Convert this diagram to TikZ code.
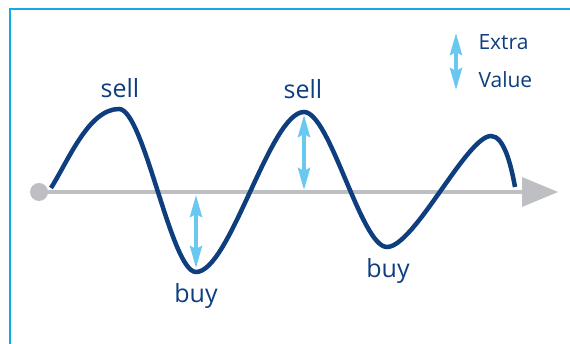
\documentclass[tikz,border=0pt]{standalone}
\usepackage{fontspec}
\setmainfont{Open Sans}
\usepackage{xcolor}
\usetikzlibrary{arrows.meta}
\definecolor{wavec}{RGB}{14,62,125}
\definecolor{gainc}{RGB}{104,200,240}
\definecolor{axisc}{RGB}{190,191,194}
\definecolor{framec}{RGB}{22,168,230}

\begin{document}
\begin{tikzpicture}[x=1pt, y=1pt,
  wave/.style  = {draw=wavec, line width=4.5pt},
  gain/.style  = {draw=gainc, line width=4pt,
                  arrows={Stealth[length=22pt,width=12pt,inset=3pt]-Stealth[length=22pt,width=12pt,inset=3pt]}},
  lbl/.style   = {text=wavec, font=\fontsize{25}{30}\selectfont, anchor=base},
  lgd/.style   = {text=wavec, font=\fontsize{21}{25}\selectfont, anchor=base west}
]
\useasboundingbox (0,0) rectangle (570,344);

% --- frame ---
\draw[framec, line width=2pt] (10,-2) -- (10,335) -- (572,335);

% --- time axis ---
\coordinate (t0) at (39,152);
\coordinate (t1) at (524,152);
\draw[axisc, line width=4pt] (t0) -- (t1);
\fill[axisc] (t0) circle (9);
\fill[axisc] (522,137) -- (558,152) -- (522,167) -- cycle;

% --- price wave ---
\draw[wave] (51,156) .. controls +(58:34) and +(-30,0) .. (119,235)
  .. controls +(25,0) and +(-25,0) .. (196,72)
  .. controls +(34,0) and +(-34,0) .. (304,232)
  .. controls +(26,0) and +(-26,0) .. (387,97)
  .. controls +(27,0) and +(-24,0) .. (491,208)
  .. controls +(13,0) and +(-4,22) .. (515,157);

% --- extra value ---
\coordinate (g1a) at (196,149); \coordinate (g1b) at (196,76);
\coordinate (g2a) at (304,229); \coordinate (g2b) at (304,154);
\draw[gain] (g1a) -- (g1b);
\draw[gain] (g2a) -- (g2b);

% --- labels ---
\node[lbl] (sell1) at (120,246) {sell};
\node[lbl] (sell2) at (303,245) {sell};
\node[lbl] (buy1)  at (196,41)  {buy};
\node[lbl] (buy2)  at (388,66)  {buy};

% --- legend ---
\coordinate (k1) at (456,311); \coordinate (k2) at (456,254);
\draw[gain] (k1) -- (k2);
\node[lgd] (extra) at (475,294) {Extra};
\node[lgd] (value) at (475,256) {Value};
\end{tikzpicture}
\end{document}
